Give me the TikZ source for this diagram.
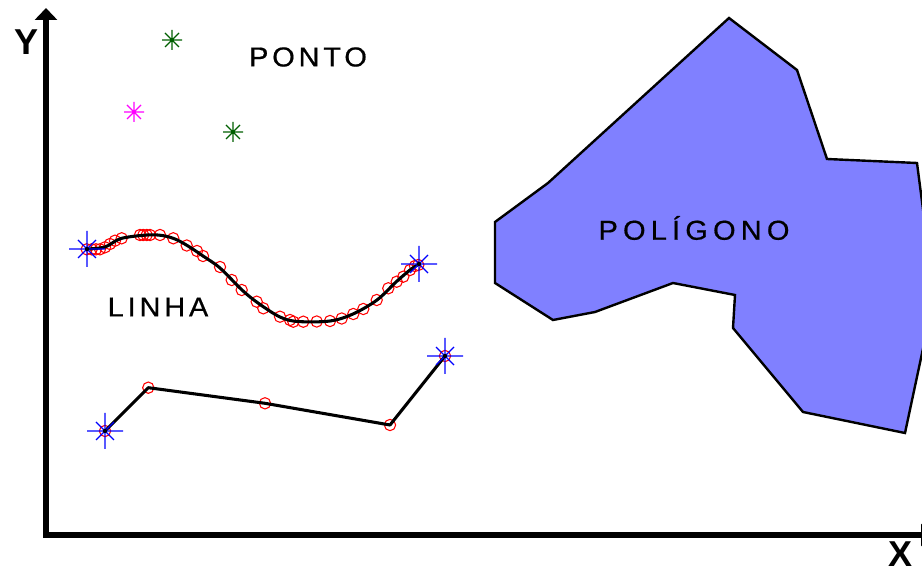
\documentclass[tikz,border=0pt]{standalone}
\usepackage{fontspec}
\setmainfont{Liberation Sans}
\newfontfamily\lblfont[LetterSpace=14,FakeStretch=1.06,FakeBold=0.6]{Liberation Sans}
\newfontfamily\polfont[LetterSpace=19,FakeStretch=1.06,FakeBold=0.6]{Liberation Sans}
\usetikzlibrary{arrows.meta}
\definecolor{polyfill}{RGB}{128,128,255}
\definecolor{ptgreen}{RGB}{0,95,0}
\definecolor{ptmag}{RGB}{255,0,255}
\begin{document}
\begin{tikzpicture}[x=0.75pt,y=-0.75pt,
  axisline/.style={line width=5pt,-{Triangle[width=16.5pt,length=9pt]}},
  curveline/.style={line width=2.3pt,black,line join=round},
  vtx/.style={circle,draw=red,line width=0.8pt,minimum size=8.5pt,inner sep=0pt},
  lbl/.style={font=\lblfont\fontsize{20.5}{22}\selectfont,text=black,inner sep=0pt},
  pollbl/.style={font=\polfont\fontsize{20.5}{22}\selectfont,text=black,inner sep=0pt},
  axlbl/.style={font=\bfseries\fontsize{27}{29}\selectfont,inner sep=0pt},
  pics/bluestar/.style={code={
    \draw[blue,line width=0.9pt] (-18,0)--(18,0) (0,-18)--(0,18) (-9,-9)--(9,9) (-9,9)--(9,-9);
    \fill[black] (0,0) circle (1.6pt);}},
  pics/ptstar/.style={code={
    \draw[#1,line width=0.9pt] (-10,0)--(10,0) (0,-10)--(0,10) (-7,-7)--(7,7) (-7,7)--(7,-7);
    \fill[#1] (0,0) circle (1.3pt);}}
  ]
\useasboundingbox (0,0) rectangle (922,573);
\clip (0,0) rectangle (922,573);

% polygon
\draw[fill=polyfill,line width=1.8pt,line join=miter]
  (729,18) -- (797,70) -- (827,159) -- (917,163) -- (927,240) -- (927,330)
  -- (905,433) -- (803,412) -- (733,328) -- (735,295) -- (673,283)
  -- (595,312) -- (553,320) -- (495,283) -- (495,222) -- (548,183) -- cycle;
\node[pollbl] (pol) at (694,228) {POLÍGONO};

% axes
\draw[axisline] (46,536) -- (46,8);
\draw[axisline] (43,535) -- (933,535);
\node[axlbl] (ylab) at (27,42) {Y};
\node[axlbl] (xlab) at (900,554) {X};

% points
\node[lbl] (ponto) at (308,57) {PONTO};
\pic at (172,40) {ptstar=ptgreen};
\pic at (134,112) {ptstar=ptmag};
\pic at (233,132) {ptstar=ptgreen};

% curved line
\node[lbl] (linha) at (158,307) {LINHA};
\foreach \p in {(86.7,249.3),(91.7,249.3),(96,249.3),(100,249.3),(105,247.3),(110,244),
  (115,240.7),(121.7,238.3),(140,235),(143.3,235),(146.7,235),(150,235),(160,235),
  (173.3,238.3),(186.7,245.5),(197,251),(203,256),(220,267),(231.7,280),(241.7,290),
  (256.7,301.7),(263.3,308.3),(280,316.7),(290,320),(293.3,321.7),(303.3,321.7),
  (316.7,321.5),(330,321),(341.7,318.5),(353.3,314),(363.3,309),(376.7,300),(388.3,288.3),
  (396.7,281.7),(403.3,276.7),(410,270),(415,266),(418.3,265)}
  \node[vtx] at \p {};
\coordinate (l1) at (87,249);
\coordinate (l2) at (419,264);
\draw[curveline] plot[smooth,tension=0.55] coordinates {(87,249) (105,247) (121,238.5)
  (147,235) (162,235.5) (175,239) (188,246) (203,256) (220,268) (242,290) (258,303)
  (280,317) (298,321.5) (330,321) (353,314) (377,300) (396,282) (410,270) (419,264)};
\pic at (l1) {bluestar};
\pic at (l2) {bluestar};

% polyline
\node[vtx] (p1) at (105,431) {};
\node[vtx] (p2) at (148.3,387.7) {};
\node[vtx] (p3) at (265,403.3) {};
\node[vtx] (p4) at (390,425) {};
\node[vtx] (p5) at (445,356) {};
\draw[curveline] (p1.center) -- (p2.center) -- (p3.center) -- (p4.center) -- (p5.center);
\pic at (p1) {bluestar};
\pic at (p5) {bluestar};
\end{tikzpicture}
\end{document}
